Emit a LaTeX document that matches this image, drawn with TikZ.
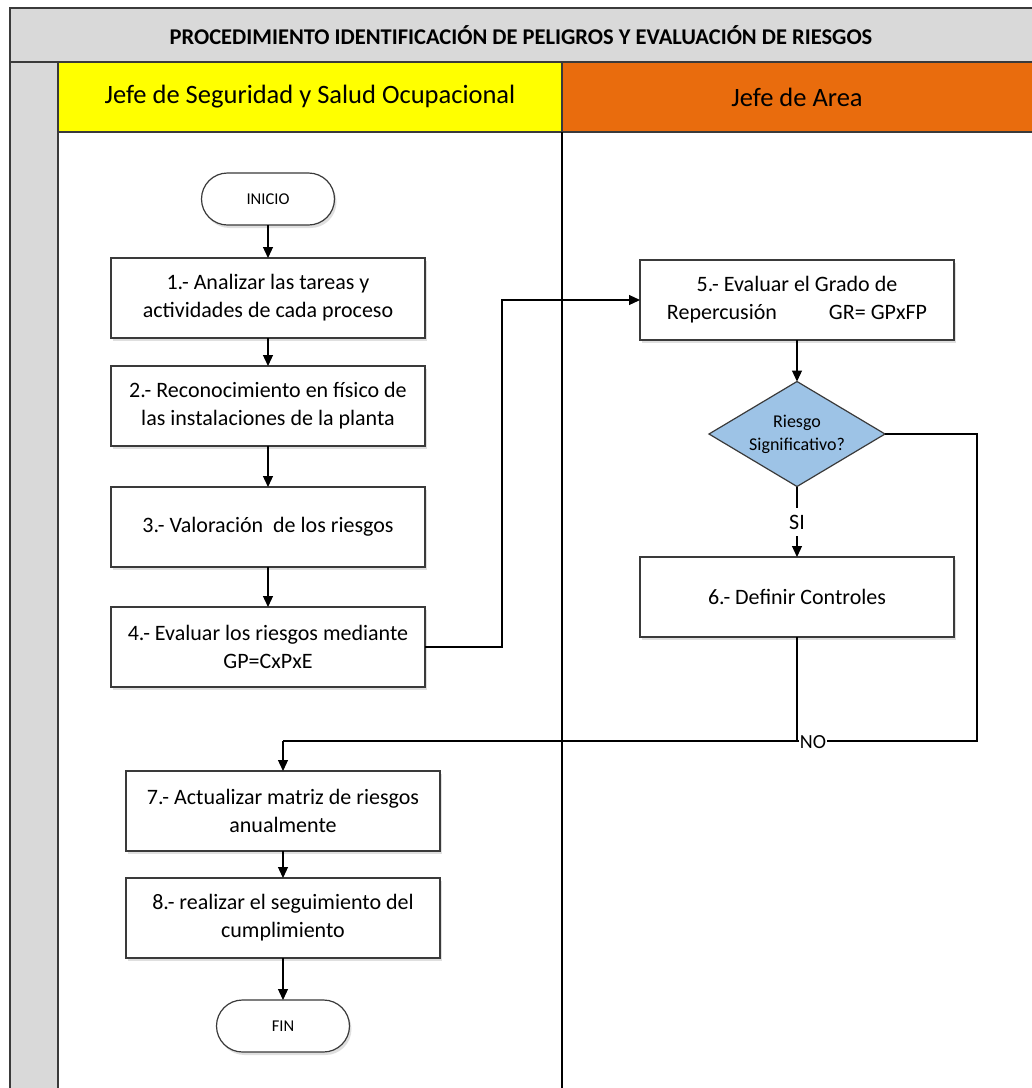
\documentclass[tikz,border=0pt]{standalone}
\usepackage{fontspec}
\setmainfont{Carlito}
\usetikzlibrary{shapes.geometric,arrows.meta,shadows}
\definecolor{titlegray}{HTML}{D9D9D9}
\definecolor{laneyellow}{HTML}{FFFF00}
\definecolor{laneorange}{HTML}{E96C0D}
\definecolor{diamblue}{HTML}{9DC3E6}
\definecolor{linegray}{HTML}{3A3A3A}
\begin{document}
\begin{tikzpicture}[x=1pt,y=-1pt,
  every node/.style={inner sep=0pt, outer sep=0pt},
  procbox/.style={draw=linegray, line width=1.2pt, fill=white, minimum width=314pt, minimum height=80pt, align=center, font=\fontsize{22}{28}\selectfont,
    drop shadow={shadow xshift=2pt, shadow yshift=-3pt, opacity=0.25, fill=gray}},
  termbox/.style={draw=linegray, line width=1.2pt, fill=white, rounded corners=26pt, minimum width=133pt, minimum height=52pt, font=\fontsize{16.5}{18}\selectfont,
    drop shadow={shadow xshift=2pt, shadow yshift=-3pt, opacity=0.25, fill=gray}},
  decbox/.style={draw=linegray, line width=1.2pt, fill=diamblue, diamond, aspect=1.68, minimum width=176pt, minimum height=105pt, align=center, font=\fontsize{18}{23}\selectfont, inner sep=0pt},
  conn/.style={draw=black, line width=1.2pt},
  arr/.style={conn, -{Triangle[length=11pt,width=10pt]}},
  lanehead/.style={draw=linegray, line width=1.2pt},
  lbl/.style={font=\fontsize{22}{24}\selectfont, fill=white}
]
\useasboundingbox (0,0) rectangle (1032,1088);
\fill[white] (0,0) rectangle (1032,1088);
% title
\draw[fill=titlegray, draw=linegray, line width=1.2pt] (10,8) rectangle (1040,62);
\node[font=\bfseries\fontsize{22.5}{24}\selectfont] (title) at (521,35) {PROCEDIMIENTO IDENTIFICACIÓN DE PELIGROS Y EVALUACIÓN DE RIESGOS};
% left gray column
\draw[fill=titlegray, draw=linegray, line width=1.2pt] (10,62) rectangle (58,1095);
% lane headers
\draw[lanehead, fill=laneyellow] (58,62) rectangle (562,132);
\draw[lanehead, fill=laneorange] (562,62) rectangle (1040,132);
\node[font=\fontsize{26.5}{30}\selectfont] (h1) at (310,97) {Jefe de Seguridad y Salud Ocupacional};
\node[font=\fontsize{26.5}{30}\selectfont] (h2) at (797,97) {Jefe de Area};
% lane bodies
\draw[draw=linegray, line width=1.2pt] (58,132) -- (58,1095);
\draw[draw=black, line width=1.2pt] (562,132) -- (562,1095);

% nodes
\node[termbox] (inicio) at (268,199) {INICIO};
\node[procbox] (s1) at (268,298) {1.- Analizar las tareas y\\actividades de cada proceso};
\node[procbox] (s2) at (268,406) {2.- Reconocimiento en físico de\\las instalaciones de la planta};
\node[procbox] (s3) at (268,527) {3.- Valoración\ \ de los riesgos};
\node[procbox] (s4) at (268,647) {4.- Evaluar los riesgos mediante\\GP=CxPxE};
\node[procbox] (s5) at (797,300) {5.- Evaluar el Grado de\\Repercusión\hspace{52pt}GR= GPxFP};
\node[decbox] (d) at (797,434) {Riesgo\\Significativo?};
\node[procbox] (s6) at (797,597) {6.- Definir Controles};
\node[procbox] (s7) at (283,811) {7.- Actualizar matriz de riesgos\\anualmente};
\node[procbox] (s8) at (283,918) {8.- realizar el seguimiento del\\cumplimiento};
\node[termbox] (fin) at (283,1026) {FIN};

% connectors
\draw[arr] (inicio) -- (s1);
\draw[arr] (s1) -- (s2);
\draw[arr] (s2) -- (s3);
\draw[arr] (s3) -- (s4);
\draw[arr] (s4.east) -- (502,647) -- (502,300) -- (s5.west);
\draw[arr] (s5) -- (d);
\draw[conn] (d.south) -- (797,508);
\node[lbl] (si) at (797,522) {SI};
\draw[arr] (797,536) -- (s6.north);
\coordinate (j) at (283,741);
\draw[conn] (d.east) -- (977,434) -- (977,741) -- (j);
\draw[conn] (s6.south) -- (797,741);
\draw[arr] (j) -- (s7.north);
\node[font=\fontsize{20}{22}\selectfont, fill=white, inner sep=1pt] (no) at (813,742) {NO};
\draw[arr] (s7) -- (s8);
\draw[arr] (s8) -- (fin);
\end{tikzpicture}
\end{document}
